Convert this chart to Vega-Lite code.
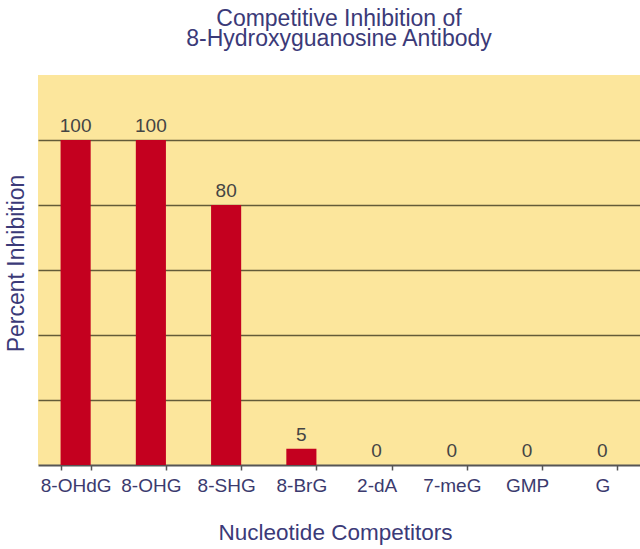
{
  "$schema": "https://vega.github.io/schema/vega-lite/v6.json",
  "width": 602,
  "height": 390,
  "autosize": "none",
  "padding": {"left": 38, "top": 75, "right": 0, "bottom": 84},
  "background": "white",
  "title": {
    "text": ["Competitive Inhibition of", "8-Hydroxyguanosine Antibody"],
    "font": "Liberation Sans",
    "fontSize": 23,
    "fontWeight": "normal",
    "color": "#3b3a78",
    "lineHeight": 20,
    "anchor": "middle",
    "frame": "group",
    "offset": 24
  },
  "config": {"view": {"fill": "#fce69c", "stroke": null}},
  "data": {
    "values": [
      {"Competitor": "8-OHdG", "Inhibition": 100},
      {"Competitor": "8-OHG", "Inhibition": 100},
      {"Competitor": "8-SHG", "Inhibition": 80},
      {"Competitor": "8-BrG", "Inhibition": 5},
      {"Competitor": "2-dA", "Inhibition": 0},
      {"Competitor": "7-meG", "Inhibition": 0},
      {"Competitor": "GMP", "Inhibition": 0},
      {"Competitor": "G", "Inhibition": 0}
    ]
  },
  "encoding": {
    "x": {
      "field": "Competitor",
      "type": "nominal",
      "sort": null,
      "scale": {"paddingInner": 0.6, "paddingOuter": 0.3},
      "axis": {
        "title": "Nucleotide Competitors",
        "labelAngle": 0,
        "tickBand": "extent",
        "tickSize": 5,
        "tickWidth": 1.5,
        "tickColor": "#555555",
        "domainColor": "#555555",
        "domainWidth": 2,
        "labelPadding": 6,
        "labelFont": "Liberation Sans",
        "labelFontSize": 19,
        "labelColor": "#3b3a6e",
        "titleFont": "Liberation Sans",
        "titleFontSize": 22.5,
        "titleFontWeight": "normal",
        "titleColor": "#3b3a78",
        "titleBaseline": "alphabetic",
        "titleX": 297,
        "titleY": 74
      }
    },
    "y": {
      "field": "Inhibition",
      "type": "quantitative",
      "scale": {"domain": [0, 120], "nice": false},
      "axis": {
        "values": [20, 40, 60, 80, 100],
        "labels": false,
        "ticks": false,
        "domain": false,
        "grid": true,
        "gridColor": "#635b38",
        "gridWidth": 1.6,
        "title": "Percent Inhibition",
        "titleFont": "Liberation Sans",
        "titleFontSize": 23,
        "titleFontWeight": "normal",
        "titleColor": "#3b3a78",
        "titleBaseline": "alphabetic",
        "titleX": -15,
        "titleY": 188
      }
    }
  },
  "layer": [
    {"mark": {"type": "bar", "color": "#c4001f"}},
    {
      "mark": {
        "type": "text",
        "baseline": "alphabetic",
        "dy": -8,
        "font": "Liberation Sans",
        "fontSize": 19,
        "color": "#444444"
      },
      "encoding": {"text": {"field": "Inhibition", "type": "quantitative"}}
    }
  ]
}
